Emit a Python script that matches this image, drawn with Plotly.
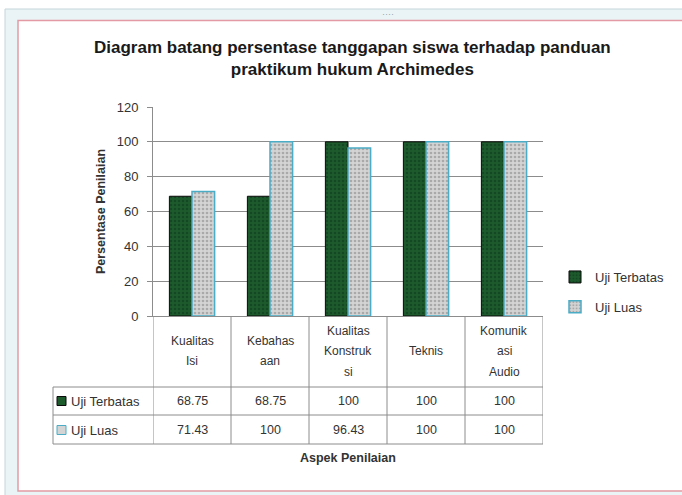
import plotly.graph_objects as go

categories = ["Kualitas Isi", "Kebahasaan", "Kualitas Konstruksi", "Teknis", "Komunikasi Audio"]
header_labels = ["Kualitas<br>Isi", "Kebahas<br>aan", "Kualitas<br>Konstruk<br>si", "Teknis", "Komunik<br>asi<br>Audio"]
uji_terbatas = [68.75, 68.75, 100, 100, 100]
uji_luas = [71.43, 100, 96.43, 100, 100]
series_names = ["Uji Terbatas", "Uji Luas"]
y_ticks = [0, 20, 40, 60, 80, 100, 120]

W, H = 682, 495
L, R, T, B = 153, 139, 107, 179
PW = W - L - R
PH = H - T - B

def px(p):
    return (p - L) / PW

def py(p):
    return (T + PH - p) / PH

FONT = "Liberation Sans"
TXT = "#333333"
GRID = "#8c8c8c"
GREEN = "#1d5a2c"
GRAY = "#d4d4d4"
TEAL = "#4bacc6"

x_idx = list(range(len(categories)))

fig = go.Figure()
fig.add_trace(go.Bar(
    x=x_idx, y=uji_terbatas, name=series_names[0], legendgroup="a",
    marker=dict(color=GREEN, line=dict(color="#0a0a0a", width=1),
                pattern=dict(shape=".", fgcolor="#0c3517", bgcolor=GREEN, size=4, solidity=0.35)),
))
fig.add_trace(go.Bar(
    x=x_idx, y=uji_luas, name=series_names[1], legendgroup="b",
    marker=dict(color=GRAY, line=dict(color=TEAL, width=1.5),
                pattern=dict(shape=".", fgcolor="#7d7d7d", bgcolor=GRAY, size=4, solidity=0.35)),
))

shapes = []
annotations = []
line = dict(color=GRID, width=1)

# frame decorations (below everything)
shapes.append(dict(type="rect", xref="paper", yref="paper", x0=px(5), x1=px(684), y0=py(497), y1=py(9),
                   line=dict(color="#c5d5da", width=1), fillcolor="#eaf4f7", layer="below"))
shapes.append(dict(type="rect", xref="paper", yref="paper", x0=px(18), x1=px(690), y0=py(491), y1=py(20.5),
                   line=dict(color="#e39aa4", width=1.5), fillcolor="white", layer="below"))

# table horizontal lines
for p in [387, 415, 444]:
    shapes.append(dict(type="line", xref="paper", yref="paper", x0=px(53), x1=1, y0=py(p), y1=py(p), line=line))
# table vertical lines at category boundaries
for i in range(len(categories) + 1):
    shapes.append(dict(type="line", xref="x", yref="paper", x0=i - 0.5, x1=i - 0.5, y0=0, y1=py(444), line=line))
shapes.append(dict(type="line", xref="paper", yref="paper", x0=px(53), x1=px(53), y0=py(387), y1=py(444), line=line))

# header texts (one annotation per line for Excel-like line spacing)
HEAD_C, HEAD_LS = 351, 20.5
for i, lab in enumerate(header_labels):
    parts = lab.split("<br>")
    n = len(parts)
    for k, part in enumerate(parts):
        yc = HEAD_C + (k - (n - 1) / 2) * HEAD_LS
        annotations.append(dict(x=i, y=py(yc), xref="x", yref="paper", text=part, showarrow=False,
                                xanchor="center", yanchor="middle",
                                font=dict(family=FONT, size=12, color=TXT)))

# data rows
rows = [(uji_terbatas, 401, GREEN, "#0a0a0a"), (uji_luas, 430, GRAY, TEAL)]
for (vals, yc, fc, lc), name in zip(rows, series_names):
    for i, v in enumerate(vals):
        annotations.append(dict(x=i, y=py(yc), xref="x", yref="paper", text=f"{v:g}", showarrow=False,
                                xanchor="center", yanchor="middle",
                                font=dict(family=FONT, size=12.5, color=TXT)))
    annotations.append(dict(x=px(69), y=py(yc), xref="paper", yref="paper", text=name, showarrow=False,
                            xanchor="left", yanchor="middle", font=dict(family=FONT, size=13, color=TXT)))
    shapes.append(dict(type="rect", xref="paper", yref="paper", x0=px(57), x1=px(66),
                       y0=py(yc + 4.5), y1=py(yc - 4.5), fillcolor=fc, line=dict(color=lc, width=1)))

# x axis title
annotations.append(dict(x=px(348), y=py(458), xref="paper", yref="paper", text="<b>Aspek Penilaian</b>",
                        showarrow=False, xanchor="center", yanchor="middle",
                        font=dict(family=FONT, size=12.5, color=TXT)))
# title
annotations.append(dict(x=px(352), y=py(59), xref="paper", yref="paper",
                        text="<b>Diagram batang persentase tanggapan siswa terhadap panduan<br>praktikum hukum Archimedes</b>",
                        showarrow=False, xanchor="center", yanchor="middle",
                        font=dict(family=FONT, size=17, color="#1a1a1a")))
# frame handle dots
annotations.append(dict(x=px(388), y=py(14), xref="paper", yref="paper", text="····", showarrow=False,
                        xanchor="center", yanchor="middle", font=dict(family=FONT, size=9, color="#9aa5a8")))

fig.update_layout(
    width=W, height=H, autosize=False,
    margin=dict(l=L, r=R, t=T, b=B, autoexpand=False),
    paper_bgcolor="white", plot_bgcolor="white",
    barmode="group", bargap=0.42, bargroupgap=0,
    font=dict(family=FONT, size=12, color=TXT),
    showlegend=True,
    legend=dict(xref="container", yref="container", x=555 / W, y=1 - 262 / H,
                xanchor="left", yanchor="top", font=dict(family=FONT, size=13, color=TXT),
                itemwidth=30, tracegroupgap=10, bgcolor="rgba(0,0,0,0)"),
    xaxis=dict(range=[-0.5, len(categories) - 0.5], showticklabels=False, showgrid=False,
               showline=True, linecolor=GRID, linewidth=1, ticks="", zeroline=False),
    yaxis=dict(range=[0, 120], tickvals=y_ticks, showgrid=True, gridcolor=GRID, gridwidth=1,
               showline=True, linecolor=GRID, linewidth=1, ticks="outside", ticklen=5, tickcolor=GRID,
               ticklabelstandoff=6,
               zeroline=False, tickfont=dict(family=FONT, size=13, color=TXT),
               title=dict(text="<b>Persentase Penilaian</b>", font=dict(family=FONT, size=12.5, color=TXT), standoff=8)),
    shapes=shapes, annotations=annotations,
)

fig.write_html(
    "out.html",
    config={"displayModeBar": False, "responsive": False},
    default_width="682px", default_height="495px",
    post_script="document.body.style.margin='0';document.body.style.padding='0';document.body.style.overflow='hidden';",
)
